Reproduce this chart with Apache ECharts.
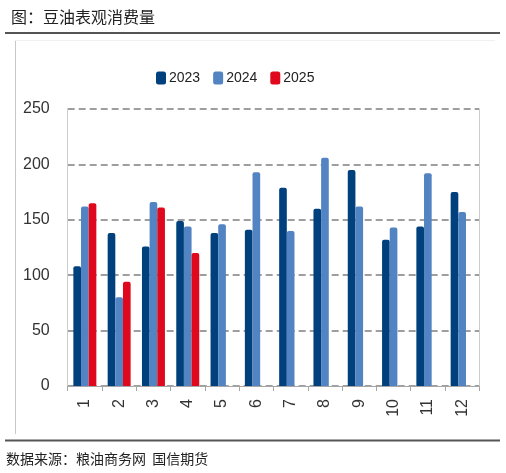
<!DOCTYPE html>
<html>
<head>
<meta charset="utf-8">
<script src="https://cdn.jsdelivr.net/npm/echarts@6/dist/echarts.min.js"></script>
<style>
html,body{margin:0;padding:0;background:#fff;}
#c{width:506px;height:473px;}
</style>
</head>
<body>
<div id="c"></div>
<script>
var months = ['1','2','3','4','5','6','7','8','9','10','11','12'];
var s2023 = [108, 138, 126, 149, 138, 141, 179, 160, 195, 132, 144, 175];
var s2024 = [162, 80, 166, 144, 146, 193, 140, 206, 162, 143, 192, 157];
var s2025 = [165, 94, 161, 120, null, null, null, null, null, null, null, null];
var yTicks = [0, 50, 100, 150, 200, 250];
var titleText = '图：豆油表观消费量';
var sourceText = '数据来源：粮油商务网  国信期货';

var numFont = "'Liberation Sans',Arial,sans-serif";
var cjkFont = "'Noto Sans CJK SC',sans-serif";
var chart = echarts.init(document.getElementById('c'), null, {renderer:'canvas'});
function barSeries(name, data, color){
  return {name:name, type:'bar', data:data, barGap:'0%', barCategoryGap:'33%',
    itemStyle:{color:color, borderRadius:[2,2,0,0]}, animation:false};
}
chart.setOption({
  animation:false,
  backgroundColor:'#fff',
  title:{text:titleText, left:6, top:4, textStyle:{fontFamily:cjkFont, fontSize:16, fontWeight:'normal', color:'#222'}},
  graphic:[
    {type:'line', shape:{x1:5,y1:33,x2:500,y2:33}, style:{stroke:'#555',lineWidth:2}},
    {type:'line', shape:{x1:5,y1:440.5,x2:500,y2:440.5}, style:{stroke:'#555',lineWidth:2}},
    {type:'line', shape:{x1:15.5,y1:40,x2:15.5,y2:434}, style:{stroke:'#c8c8c8',lineWidth:1}},
    {type:'line', shape:{x1:15,y1:40.5,x2:495,y2:40.5}, style:{stroke:'#f0f0f0',lineWidth:1}},
    {type:'text', left:6, top:452, style:{text:sourceText, font:"14px 'Noto Sans CJK SC'", fill:'#222'}}
  ],
  legend:{data:['2023','2024','2025'], top:66, left:151, itemWidth:10, itemHeight:13, itemGap:13,
    icon:'roundRect',
    textStyle:{fontFamily:numFont, fontSize:14, color:'#222', padding:[0,0,0,-2]}},
  grid:{left:67.7, right:26.7, top:109, bottom:87, containLabel:false},
  xAxis:{type:'category', data:months,
    axisLine:{lineStyle:{color:'#a6a6a6', width:1}},
    axisTick:{show:true, length:5, lineStyle:{color:'#a6a6a6'}},
    axisLabel:{rotate:90, margin:13, fontFamily:numFont, fontSize:16, color:'#333'}},
  yAxis:[
    {type:'value', min:yTicks[0], max:yTicks[yTicks.length-1], interval:50,
      axisLine:{show:true, lineStyle:{color:'#cccccc'}},
      axisTick:{show:false},
      axisLabel:{margin:18, fontFamily:numFont, fontSize:16, color:'#333'},
      splitLine:{show:true, lineStyle:{color:'#7f7f7f', width:1.6, type:[7,4]}}},
    {type:'value', min:yTicks[0], max:yTicks[yTicks.length-1], interval:50, position:'right',
      axisLine:{show:true, lineStyle:{color:'#cccccc'}},
      axisTick:{show:false}, axisLabel:{show:false}, splitLine:{show:false}}
  ],
  series:[
    barSeries('2023', s2023, '#00417d'),
    barSeries('2024', s2024, '#5283c2'),
    barSeries('2025', s2025, '#e0081c')
  ]
});
</script>
</body>
</html>
